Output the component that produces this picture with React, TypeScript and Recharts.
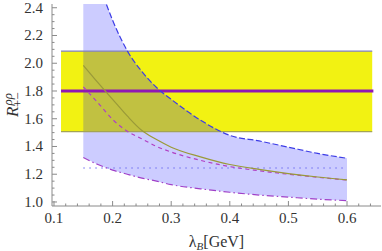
import React from 'react';
import { ComposedChart, Line, Area, XAxis, YAxis, ReferenceArea, ReferenceLine } from 'recharts';

// lambda_B values (GeV)
const lambdaB = [0.15, 0.175, 0.2, 0.225, 0.25, 0.275, 0.3, 0.35, 0.4, 0.45, 0.5, 0.55, 0.6];
// central prediction (solid olive)
const central = [1.985, 1.86, 1.74, 1.62, 1.515, 1.45, 1.395, 1.325, 1.27, 1.235, 1.205, 1.18, 1.16];
// alternative prediction (dashed magenta)
const dashedMid = [1.83, 1.715, 1.595, 1.51, 1.455, 1.4, 1.36, 1.3, 1.255, 1.225, 1.2, 1.178, 1.158];
// upper edge of uncertainty band (dashed blue)
const upper = [2.95, 2.6, 2.31, 2.09, 1.94, 1.825, 1.74, 1.59, 1.48, 1.44, 1.395, 1.35, 1.315];
// lower edge of uncertainty band (dash-dot magenta)
const lower = [1.32, 1.27, 1.23, 1.2, 1.172, 1.15, 1.125, 1.095, 1.07, 1.05, 1.035, 1.02, 1.01];

// experimental band
const expCentral = 1.8;
const expLow = 1.507;
const expHigh = 2.088;
const expXFrom = 0.112;
const expXTo = 0.643;
// dotted horizontal level
const dottedLevel = 1.245;
const dottedFrom = 0.15;
const dottedTo = 0.6;

// axes
const xDomain = [0.0966, 0.658];
const yDomain = [0.971, 2.427];
const xMajor = [0.1, 0.2, 0.3, 0.4, 0.5, 0.6];
const xMinor = [0.12, 0.14, 0.16, 0.18, 0.22, 0.24, 0.26, 0.28, 0.32, 0.34, 0.36, 0.38, 0.42, 0.44, 0.46, 0.48, 0.52, 0.54, 0.56, 0.58, 0.62, 0.64];
const yMajor = [1.0, 1.2, 1.4, 1.6, 1.8, 2.0, 2.2, 2.4];
const yMinor = [1.05, 1.1, 1.15, 1.25, 1.3, 1.35, 1.45, 1.5, 1.55, 1.65, 1.7, 1.75, 1.85, 1.9, 1.95, 2.05, 2.1, 2.15, 2.25, 2.3, 2.35];

const xTicks = [...xMajor, ...xMinor].sort((a, b) => a - b);
const yTicks = [...yMajor, ...yMinor].sort((a, b) => a - b);

const data = lambdaB.map((x, i) => ({
  x,
  central: central[i],
  dashedMid: dashedMid[i],
  upper: upper[i],
  lower: lower[i],
  band: [lower[i], upper[i]],
}));

const FRAME = '#8a8a8a';
const TEXT = '#333';
const serif: React.CSSProperties = { fontFamily: "'Liberation Serif', 'DejaVu Serif', serif" };

const isMajor = (v: number, majors: number[]) => majors.some((m) => Math.abs(m - v) < 1e-6);

const BottomTick = (props: any) => {
  const { x, y, payload } = props;
  const major = isMajor(payload.value, xMajor);
  return (
    <g>
      <line x1={x} x2={x} y1={y} y2={y - (major ? 5 : 2.5)} stroke={FRAME} />
      {major && (
        <text x={x} y={y + 17} textAnchor="middle" fontSize={15} style={serif} fill={TEXT}>
          {payload.value.toFixed(1)}
        </text>
      )}
    </g>
  );
};

const TopTick = (props: any) => {
  const { x, y, payload } = props;
  const major = isMajor(payload.value, xMajor);
  return <line x1={x} x2={x} y1={y} y2={y + (major ? 5 : 2.5)} stroke={FRAME} />;
};

const LeftTick = (props: any) => {
  const { x, y, payload } = props;
  const major = isMajor(payload.value, yMajor);
  return (
    <g>
      <line x1={x} x2={x + (major ? 5 : 2.5)} y1={y} y2={y} stroke={FRAME} />
      {major && (
        <text x={x - 9} y={y + 5} textAnchor="end" fontSize={15} style={serif} fill={TEXT}>
          {payload.value.toFixed(1)}
        </text>
      )}
    </g>
  );
};

const RightTick = (props: any) => {
  const { x, y, payload } = props;
  const major = isMajor(payload.value, yMajor);
  return <line x1={x} x2={x - (major ? 5 : 2.5)} y1={y} y2={y} stroke={FRAME} />;
};

const XLabel = (props: any) => {
  const vb = props.viewBox || { x: 52, y: 206, width: 329, height: 45 };
  return (
    <text x={vb.x + vb.width / 2} y={vb.y + 41} textAnchor="middle" style={serif} fontSize={16} fill={TEXT}>
      <tspan>λ</tspan>
      <tspan fontStyle="italic" fontSize={11} dy={3}>B</tspan>
      <tspan dy={-3}>[GeV]</tspan>
    </text>
  );
};

const YLabel = (props: any) => {
  const vb = props.viewBox || { x: 0, y: 4, width: 52, height: 202 };
  const cy = vb.y + vb.height / 2 - 7;
  return (
    <text transform={`translate(${vb.x + 18},${cy + 19}) rotate(-90)`} textAnchor="start" style={serif} fill={TEXT}>
      <tspan fontStyle="italic" fontSize={17}>R</tspan>
      <tspan fontStyle="italic" fontSize={13} dx={1} dy={-6}>ρρ</tspan>
      <tspan fontSize={13} dx={-14} dy={10}>+−</tspan>
    </text>
  );
};

export default function App() {
  return (
    <div style={{ position: 'absolute', left: 0, top: 0, background: '#fff' }}>
      <ComposedChart width={382} height={251} data={data} margin={{ top: 4, right: 1, bottom: 0, left: 0 }}>
        <XAxis
          dataKey="x"
          type="number"
          domain={xDomain}
          allowDataOverflow
          ticks={xTicks}
          interval={0}
          tickSize={0}
          tickMargin={0}
          tickLine={false}
          tick={<BottomTick />}
          axisLine={{ stroke: FRAME }}
          height={45}
          label={<XLabel />}
        />
        <XAxis
          xAxisId="top"
          orientation="top"
          dataKey="x"
          type="number"
          domain={xDomain}
          allowDataOverflow
          ticks={xTicks}
          interval={0}
          tickSize={0}
          tickMargin={0}
          tickLine={false}
          tick={<TopTick />}
          axisLine={{ stroke: FRAME }}
          height={0}
        />
        <YAxis
          type="number"
          domain={yDomain}
          allowDataOverflow
          ticks={yTicks}
          interval={0}
          tickSize={0}
          tickMargin={0}
          tickLine={false}
          tick={<LeftTick />}
          axisLine={{ stroke: FRAME }}
          width={52}
          label={<YLabel />}
        />
        <YAxis
          yAxisId="right"
          orientation="right"
          type="number"
          domain={yDomain}
          allowDataOverflow
          ticks={yTicks}
          interval={0}
          tickSize={0}
          tickMargin={0}
          tickLine={false}
          tick={<RightTick />}
          axisLine={{ stroke: FRAME }}
          width={0}
        />
        <ReferenceArea x1={expXFrom} x2={expXTo} y1={expLow} y2={expHigh} fill="#f2f212" fillOpacity={1} stroke="none" />
        <ReferenceLine segment={[{ x: expXFrom, y: expHigh }, { x: expXTo, y: expHigh }]} stroke="#8080c8" strokeWidth={1.2} />
        <ReferenceLine segment={[{ x: expXFrom, y: expLow }, { x: expXTo, y: expLow }]} stroke="#a4a454" strokeWidth={1.2} />
        <Area
          dataKey="band"
          type="monotone"
          fill="#0000ff"
          fillOpacity={0.2}
          stroke="none"
          isAnimationActive={false}
          dot={false}
          activeDot={false}
        />
        <ReferenceLine segment={[{ x: expXFrom, y: expCentral }, { x: expXTo + 0.002, y: expCentral }]} stroke="#9018b4" strokeWidth={3} />
        <ReferenceLine
          segment={[{ x: dottedFrom, y: dottedLevel }, { x: dottedTo, y: dottedLevel }]}
          stroke="#6a6af0"
          strokeWidth={1.2}
          strokeDasharray="1.5 4.5"
        />
        <Line dataKey="upper" type="monotone" stroke="#3c3ce6" strokeWidth={1.2} strokeDasharray="6 2.5" dot={false} activeDot={false} isAnimationActive={false} />
        <Line dataKey="lower" type="monotone" stroke="#a040c8" strokeWidth={1.2} strokeDasharray="7 3 1.5 3" dot={false} activeDot={false} isAnimationActive={false} />
        <Line dataKey="dashedMid" type="monotone" stroke="#b040c4" strokeWidth={1.2} strokeDasharray="4 3.5" dot={false} activeDot={false} isAnimationActive={false} />
        <Line dataKey="central" type="monotone" stroke="#9a9a38" strokeWidth={1.2} dot={false} activeDot={false} isAnimationActive={false} />
      </ComposedChart>
    </div>
  );
}
